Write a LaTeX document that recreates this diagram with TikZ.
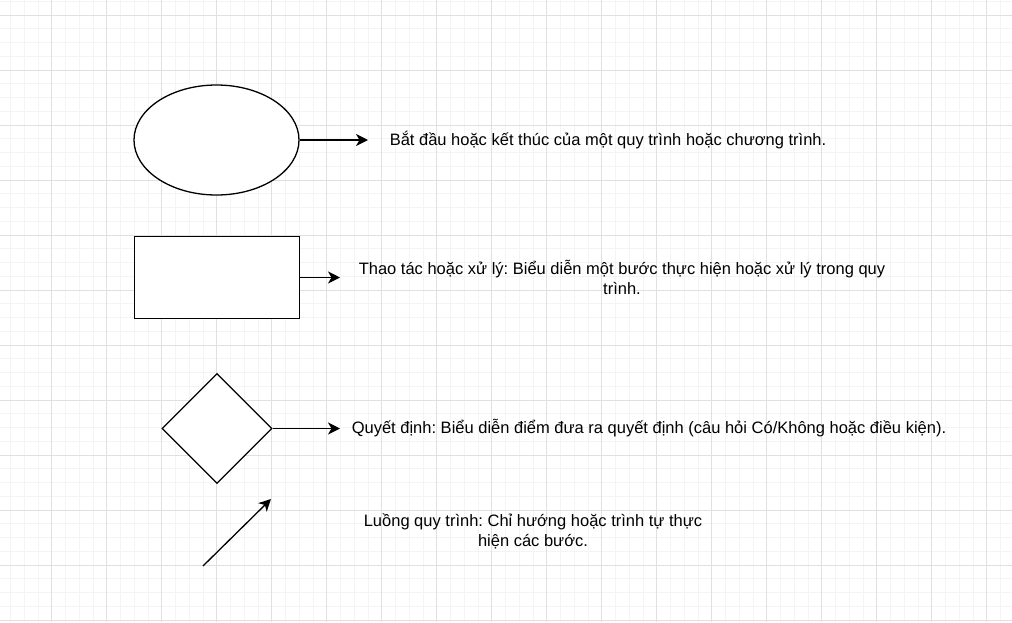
\documentclass[tikz,border=0pt]{standalone}
\usepackage{fontspec}
\setmainfont{Liberation Sans}
\usetikzlibrary{shapes.geometric,arrows.meta}
\definecolor{gridminor}{RGB}{244,244,244}
\definecolor{gridmajor}{RGB}{224,224,224}
\tikzset{
  minorline/.style={draw=gridminor,line width=0.8pt},
  majorline/.style={draw=gridmajor,line width=0.9pt},
  shapebox/.style={draw=black,fill=white,line width=1.3pt,inner sep=0pt},
  flow/.style={draw=black,line width=1.3pt,-{Stealth[length=12pt,width=12pt,inset=3.5pt]}},
  label/.style={inner sep=0pt,align=center,font=\fontsize{16.5}{20}\selectfont}
}
\frenchspacing
\begin{document}
\begin{tikzpicture}[x=1pt,y=-1pt]
\useasboundingbox (0,0) rectangle (1012,622);
\fill[white] (0,0) rectangle (1012,622);
% grid
\foreach \i in {0,...,73} {\draw[minorline] ({10.45+13.75*\i},0) -- ++(0,622);}
\foreach \i in {0,...,45} {\draw[minorline] (0,{1.25+13.75*\i}) -- ++(1012,0);}
\foreach \i in {-1,...,17} {\draw[majorline] ({51.7+55*\i},0) -- ++(0,622);}
\foreach \i in {0,...,11} {\draw[majorline] (0,{15+55*\i}) -- ++(1012,0);}
% shapes
\node[shapebox,ellipse,minimum width=165pt,minimum height=110pt] (term) at (216.5,140) {};
\node[shapebox,rectangle,minimum width=165pt,minimum height=82.5pt] (proc) at (216.8,277.5) {};
\node[shapebox,diamond,minimum width=110pt,minimum height=110pt] (dec) at (217,428.5) {};
% free ends
\coordinate (e1) at (368,140);
\coordinate (e2) at (340,277.5);
\coordinate (e3) at (340,428.5);
\coordinate (f1) at (203,566);
\coordinate (f2) at (271,499);
% connectors
\draw[flow] (term.east) -- (e1);
\draw[flow] (proc.east) -- (e2);
\draw[flow] (dec.east) -- (e3);
\draw[flow] (f1) -- (f2);
% labels
\node[label] (t1) at (608,140) {Bắt đầu hoặc kết thúc của một quy trình hoặc chương trình.};
\node[label] (t2) at (622,277.5) {Thao tác hoặc xử lý: Biểu diễn một bước thực hiện hoặc xử lý trong quy\\trình.};
\node[label] (t3) at (649,428.5) {Quyết định: Biểu diễn điểm đưa ra quyết định (câu hỏi Có/Không hoặc điều kiện).};
\node[label] (t4) at (533,531) {Luồng quy trình: Chỉ hướng hoặc trình tự thực\\hiện các bước.};
\end{tikzpicture}
\end{document}
